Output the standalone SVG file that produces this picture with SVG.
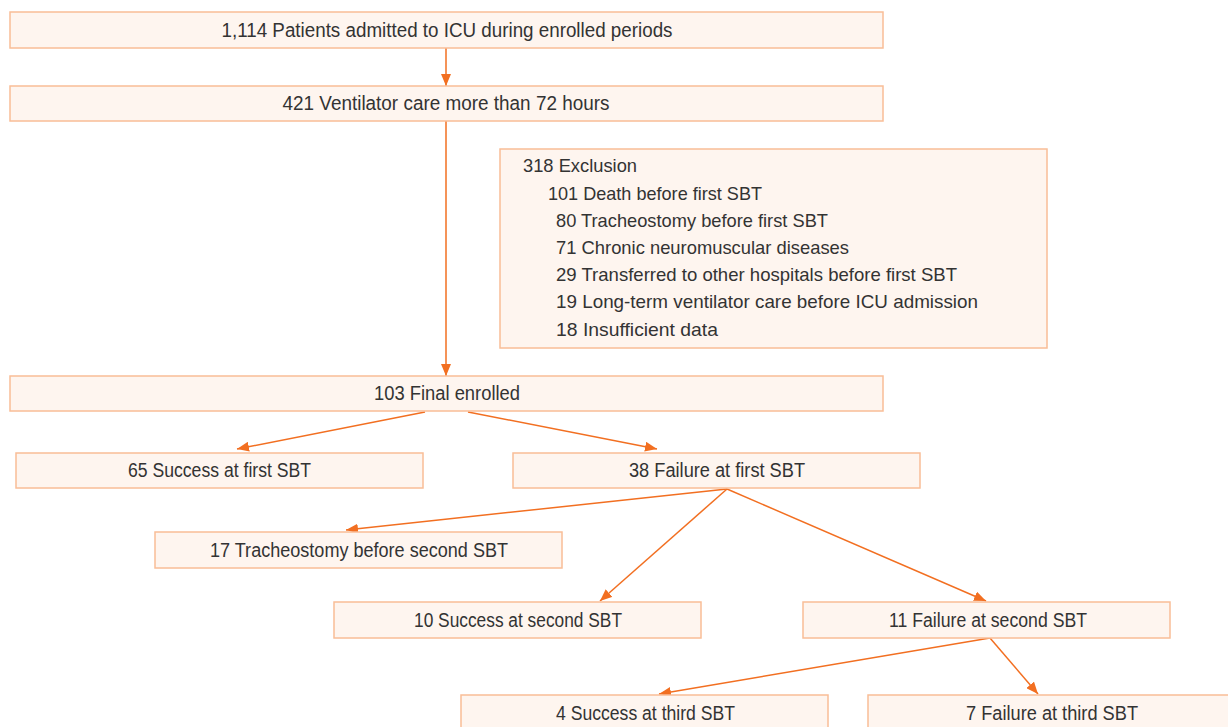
<svg xmlns="http://www.w3.org/2000/svg" width="1228" height="727" viewBox="0 0 1228 727">
<defs>
<style>
.box{fill:#fef5ef;stroke:#f9bd97;stroke-width:1.5}
.t{font-family:"Liberation Sans",Arial,sans-serif;font-size:20px;fill:#333;text-anchor:middle}
.e{font-family:"Liberation Sans",Arial,sans-serif;font-size:19px;fill:#333}
.c{stroke:#f26f21;stroke-width:1.5;fill:none}
</style>
<marker id="ah" viewBox="0 0 12 10" refX="12" refY="5" markerWidth="12" markerHeight="10" markerUnits="userSpaceOnUse" orient="auto">
<path d="M0,0 L12,5 L0,10 Z" fill="#f26f21"/>
</marker>
</defs>
<rect width="1228" height="727" fill="#fff"/>
<g id="connectors">
<line class="c" x1="446" y1="48" x2="446" y2="86" marker-end="url(#ah)"/>
<line class="c" x1="446" y1="121" x2="446" y2="376" marker-end="url(#ah)"/>
<line class="c" x1="425" y1="412" x2="237" y2="449" marker-end="url(#ah)"/>
<line class="c" x1="468" y1="412" x2="657" y2="449" marker-end="url(#ah)"/>
<line class="c" x1="727" y1="489" x2="346" y2="530" marker-end="url(#ah)"/>
<line class="c" x1="727" y1="489" x2="600" y2="601" marker-end="url(#ah)"/>
<line class="c" x1="727" y1="489" x2="986" y2="601" marker-end="url(#ah)"/>
<line class="c" x1="990" y1="638" x2="659" y2="694" marker-end="url(#ah)"/>
<line class="c" x1="990" y1="638" x2="1038" y2="694" marker-end="url(#ah)"/>
</g>
<g id="n1"><rect class="box" x="10" y="12" width="873" height="36"/><text class="t" x="447" y="37" textLength="451" lengthAdjust="spacingAndGlyphs">1,114 Patients admitted to ICU during enrolled periods</text></g>
<g id="n2"><rect class="box" x="10" y="86" width="873" height="35"/><text class="t" x="446" y="110" textLength="327" lengthAdjust="spacingAndGlyphs">421 Ventilator care more than 72 hours</text></g>
<g id="n3"><rect class="box" x="500" y="149" width="547" height="199"/>
<text class="e" x="523" y="172" textLength="114" lengthAdjust="spacingAndGlyphs">318 Exclusion</text>
<text class="e" x="548" y="200" textLength="214" lengthAdjust="spacingAndGlyphs">101 Death before first SBT</text>
<text class="e" x="556" y="227" textLength="272" lengthAdjust="spacingAndGlyphs">80 Tracheostomy before first SBT</text>
<text class="e" x="556" y="254" textLength="293" lengthAdjust="spacingAndGlyphs">71 Chronic neuromuscular diseases</text>
<text class="e" x="556" y="281" textLength="401" lengthAdjust="spacingAndGlyphs">29 Transferred to other hospitals before first SBT</text>
<text class="e" x="556" y="308" textLength="422" lengthAdjust="spacingAndGlyphs">19 Long-term ventilator care before ICU admission</text>
<text class="e" x="556" y="336" textLength="162" lengthAdjust="spacingAndGlyphs">18 Insufficient data</text>
</g>
<g id="n4"><rect class="box" x="10" y="376" width="873" height="35"/><text class="t" x="447" y="400" textLength="146" lengthAdjust="spacingAndGlyphs">103 Final enrolled</text></g>
<g id="n5"><rect class="box" x="16" y="453" width="407" height="35"/><text class="t" x="219.5" y="477" textLength="183" lengthAdjust="spacingAndGlyphs">65 Success at first SBT</text></g>
<g id="n6"><rect class="box" x="513" y="453" width="407" height="35"/><text class="t" x="717" y="477" textLength="176" lengthAdjust="spacingAndGlyphs">38 Failure at first SBT</text></g>
<g id="n7"><rect class="box" x="155" y="532" width="407" height="36"/><text class="t" x="359" y="557" textLength="298" lengthAdjust="spacingAndGlyphs">17 Tracheostomy before second SBT</text></g>
<g id="n8"><rect class="box" x="334" y="602" width="367" height="36"/><text class="t" x="518" y="627" textLength="208" lengthAdjust="spacingAndGlyphs">10 Success at second SBT</text></g>
<g id="n9"><rect class="box" x="803" y="602" width="367" height="36"/><text class="t" x="988" y="627" textLength="198" lengthAdjust="spacingAndGlyphs">11 Failure at second SBT</text></g>
<g id="n10"><rect class="box" x="461" y="695" width="367" height="40"/><text class="t" x="645.5" y="720" textLength="179" lengthAdjust="spacingAndGlyphs">4 Success at third SBT</text></g>
<g id="n11"><rect class="box" x="868" y="695" width="367" height="40"/><text class="t" x="1052" y="720" textLength="172" lengthAdjust="spacingAndGlyphs">7 Failure at third SBT</text></g>
</svg>
